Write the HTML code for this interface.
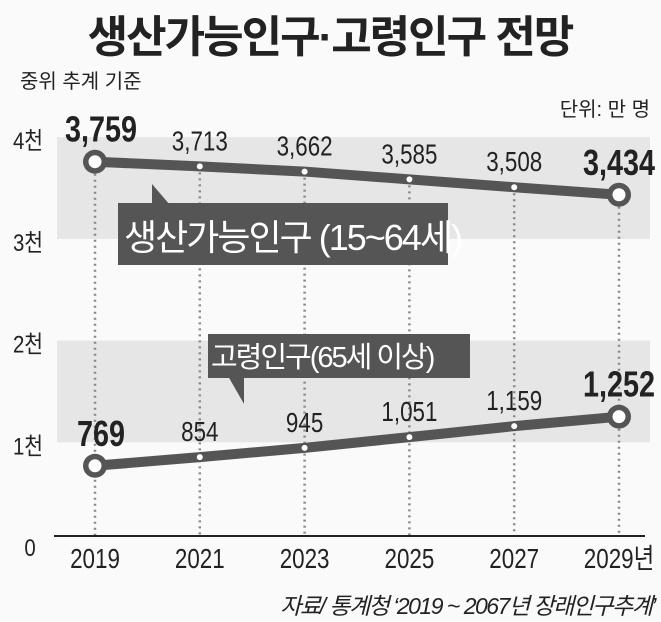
<!DOCTYPE html>
<html><head><meta charset="utf-8"><style>
body{margin:0;background:#fafafa;}
svg{display:block;font-family:"Liberation Sans","Noto Sans CJK KR",sans-serif;}
</style></head><body>
<svg id="chart" width="661" height="622" viewBox="0 0 661 622">
<rect width="661" height="622" fill="#fafafa"/>
<text x="330" y="52" text-anchor="middle" font-size="44" font-weight="bold" fill="#222" letter-spacing="-2">생산가능인구·고령인구 전망</text>
<text x="20" y="88" font-size="20" fill="#222">중위 추계 기준</text>
<text x="650" y="116" text-anchor="end" font-size="20" fill="#222">단위: 만 명</text>
<g id="bands"></g><g id="yticks"></g><g id="grid"></g>
<line x1="54" y1="536" x2="645" y2="536" stroke="#222" stroke-width="2"/>
<g id="series"></g><g id="xticks"></g>
<g>
<polygon points="152,184 152,205 170,205" fill="#555"/>
<rect x="118" y="203" width="330" height="62" fill="#555"/>
<text x="124" y="250" font-size="36" fill="#fff" letter-spacing="-2">생산가능인구 (15~64세)</text>
</g>
<g>
<polygon points="228,376 244,376 244,404" fill="#555"/>
<rect x="208" y="334" width="262" height="44" fill="#555"/>
<text x="211" y="367" font-size="29" fill="#fff" letter-spacing="-2">고령인구(65세 이상)</text>
</g>
<text x="655" y="614" text-anchor="end" font-size="23" font-style="italic" fill="#222" letter-spacing="-1.5">자료/ 통계청 ‘2019 ~ 2067년 장래인구추계’</text>
</svg>
<script>
const years=["2019","2021","2023","2025","2027","2029"];
const working=[3759,3713,3662,3585,3508,3434];
const elderly=[769,854,945,1051,1159,1252];
const yTicks=[0,1000,2000,3000,4000];
const yTickLabels=["0","1천","2천","3천","4천"];
const NS="http://www.w3.org/2000/svg";
const x=i=>95+i*104.8;
const y=v=>544-v*0.1017;
function mk(tag,attrs,parent){const e=document.createElementNS(NS,tag);for(const k in attrs)e.setAttribute(k,attrs[k]);document.getElementById(parent).appendChild(e);return e;}
[[3000,4000],[1000,2000]].forEach(b=>{
 const r=mk("rect",{x:57,y:y(b[1]),width:593,height:y(b[0])-y(b[1]),fill:"#e6e6e6"},"bands");
 
 
});
yTicks.forEach((t,i)=>{
 const e=mk("text",{x:0,y:0,"font-size":24,fill:"#222","text-anchor":"middle",transform:"translate("+(i==0?30:28)+","+(y(t)+12)+") scale(0.85,1)"},"yticks");
 e.textContent=yTickLabels[i];
 
 
});
years.forEach((yr,i)=>{
 const l=mk("line",{x1:x(i),y1:y(working[i]),x2:x(i),y2:536,stroke:"#888","stroke-width":2.5,"stroke-dasharray":"2,4"},"grid");
 
 
 const t=mk("text",{x:0,y:0,"font-size":28,fill:"#222","text-anchor":"middle",transform:"translate("+x(i)+",568) scale(0.8,1)"},"xticks");
 t.textContent=yr+(i==years.length-1?"년":"");
 
 
});
function series(vals,name){
 const p=mk("polyline",{points:vals.map((v,i)=>x(i)+","+y(v)).join(" "),fill:"none",stroke:"#555","stroke-width":10},"series");
 
 
 vals.forEach((v,i)=>{
  const end=i==0||i==vals.length-1;
  if(end){
   const c=mk("circle",{cx:x(i),cy:y(v),r:12,fill:"#555"},"series");
   
   
   mk("circle",{cx:x(i),cy:y(v),r:6.5,fill:"#fff"},"series");
  }else{
   const c=mk("circle",{cx:x(i),cy:y(v),r:3,fill:"#fff"},"series");
   
   
  }
  const tx=x(i)+(i==0?6:0), ty=y(v)-(end?20:16);
  const t=mk("text",{x:0,y:0,"font-size":end?36:28,"font-weight":end?"bold":"normal",fill:"#222","text-anchor":"middle",transform:"translate("+tx+","+ty+") scale(0.8,1)"},"series");
  t.textContent=v.toLocaleString("en-US");
  
  
 });
}
series(working,"working-age");
series(elderly,"elderly");
</script>
</body></html>
